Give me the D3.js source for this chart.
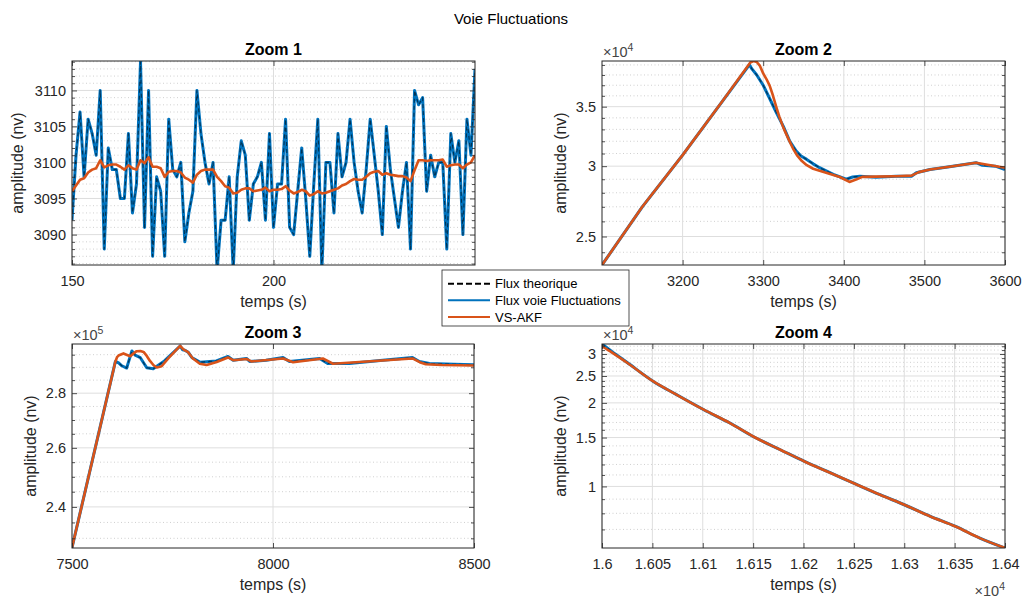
<!DOCTYPE html>
<html><head><meta charset="utf-8">
<script src="https://cdn.jsdelivr.net/npm/d3@7"></script>
<style>
body{margin:0;background:#fff;}
text{font-family:"Liberation Sans",Arial,Helvetica,sans-serif;}
</style>
</head><body>
<svg id="c" width="1023" height="598"></svg>
<script>
// ---------------- DATA ----------------
const z1Time = [150,151,152,153,154,155,156,157,158,159,160,161,162,163,164,165,166,167,168,169,170,171,172,173,174,175,176,177,178,179,180,181,182,183,184,185,186,187,188,189,190,191,192,193,194,195,196,197,198,199,200,201,202,203,204,205,206,207,208,209,210,211,212,213,214,215,216,217,218,219,220,221,222,223,224,225,226,227,228,229,230,231,232,233,234,235,236,237,238,239,240,241,242,243,244,245,246,247,248,249,250];
const z1Flux = [3092,3101,3107,3098,3106,3104,3101,3110,3088,3102,3099,3099,3095,3095,3104,3093,3097,3114,3091,3110,3087,3098,3096,3087,3106,3099,3098,3100,3089,3093,3096,3110,3104,3100,3097,3100,3085,3092,3092,3098,3085,3098,3103,3101,3092,3097,3098,3100,3092,3104,3091,3097,3097,3106,3091,3090,3096,3102,3095,3087,3097,3106,3085,3100,3100,3093,3104,3098,3100,3106,3100,3096,3093,3099,3106,3101,3096,3090,3105,3099,3095,3091,3096,3100,3088,3110,3108,3109,3096,3101,3098,3100,3100,3088,3104,3100,3103,3090,3106,3101,3113];
const z1Akf = [3096.0,3096.8,3097.6,3097.8,3098.6,3099.0,3099.2,3100.3,3099.3,3099.6,3099.7,3099.7,3099.4,3099.0,3099.6,3099.2,3099.0,3100.3,3099.9,3100.7,3099.4,3099.4,3099.2,3098.0,3098.7,3098.8,3098.8,3098.6,3097.9,3097.6,3097.2,3098.3,3098.8,3099.0,3099.0,3099.0,3098.0,3097.4,3096.7,3096.5,3095.7,3095.8,3096.2,3096.4,3096.4,3096.0,3096.1,3096.2,3096.5,3096.0,3096.2,3096.2,3096.3,3096.7,3096.1,3095.7,3095.9,3096.2,3096.0,3095.4,3095.6,3096.0,3095.7,3095.8,3096.0,3096.2,3096.4,3096.8,3097.0,3097.4,3097.7,3097.6,3097.6,3098.0,3098.5,3098.7,3098.8,3098.3,3098.5,3098.3,3098.2,3098.1,3098.1,3097.9,3097.4,3098.9,3100.3,3100.3,3100.2,3100.3,3100.3,3100.3,3100.4,3099.4,3099.6,3099.7,3099.7,3099.2,3099.7,3100.0,3101.0];

const z2FluxTime = [3100,3150,3200,3250,3283,3286,3292,3300,3308,3316,3325,3333,3341,3347,3354,3362,3370,3387,3403,3411,3420,3440,3465,3484,3490,3507,3531,3564,3572,3588,3600];
const z2Flux = [23220,27000,30870,35560,39030,38600,38000,37000,35750,34520,33260,31990,31190,30800,30530,30180,29880,29370,29000,29170,29230,29150,29230,29230,29490,29740,29950,30270,30070,30000,29740];
const z2AkfTime = [3100,3150,3200,3250,3280,3284,3288,3292,3296,3300,3304,3308,3312,3316,3320,3325,3331,3337,3342,3348,3354,3362,3370,3378,3395,3407,3416,3423,3440,3465,3484,3493,3507,3531,3564,3600];
const z2Akf = [23220,27000,30870,35560,38800,39250,39400,39300,38900,38150,37600,36970,36050,35030,34100,33150,32240,31400,30850,30400,30080,29800,29640,29490,29170,28800,29000,29180,29200,29230,29270,29540,29740,29950,30270,29870];

const z3FluxTime = [7500,7608,7616,7624,7636,7649,7657,7670,7686,7702,7730,7769,7775,7781,7789,7798,7819,7859,7888,7901,7934,7942,7983,8025,8041,8116,8136,8190,8273,8347,8364,8389,8450,8500];
const z3Flux = [227100,292300,291700,290600,289700,296500,294800,293800,289800,289400,292500,298500,297000,296800,296000,293900,292000,292500,294300,292800,293500,292300,292800,293900,292300,293500,291500,291500,292800,293900,292300,291500,291200,291000];
const z3AkfTime = [7500,7608,7612,7617,7628,7637,7645,7653,7661,7670,7678,7686,7694,7703,7711,7723,7740,7769,7778,7789,7800,7818,7835,7860,7888,7901,7934,7946,8025,8050,8124,8149,8347,8365,8380,8420,8500];
const z3Akf = [227100,292300,294000,294800,295500,294900,294400,295500,296400,296500,296100,294500,292500,290800,289900,290400,293600,298500,297000,296000,293600,291400,290900,292100,293900,292800,293300,292300,293500,292000,293500,291400,293500,292000,291200,290900,290700];

const z4FluxTime = [16000,16010,16025,16051,16074,16101,16127,16151,16177,16201,16227,16251,16276,16300,16326,16351,16375,16400];
const z4Flux = [32600,30600,27950,23900,21410,18900,16920,15070,13560,12300,11180,10230,9335,8590,7796,7175,6515,6000];
const z4AkfTime = [16000,16010,16025,16051,16074,16101,16127,16151,16177,16201,16227,16251,16276,16300,16326,16351,16375,16400];
const z4Akf = [31990,30350,27900,23900,21410,18900,16920,15070,13560,12300,11180,10230,9335,8590,7796,7175,6515,6000];

const seriesNames = ["Flux theorique","Flux voie Fluctuations","VS-AKF"];
const seriesColors = ["#000000","#0072BD","#D95319"];

const z1XTicks = [150,200], z1XLabels = ["150","200"];
const z1YTicks = [3090,3095,3100,3105,3110], z1YLabels = ["3090","3095","3100","3105","3110"];
const z2XTicks = [3200,3300,3400,3500,3600], z2XLabels = ["3200","3300","3400","3500","3600"];
const z2YTicks = [25000,30000,35000], z2YLabels = ["2.5","3","3.5"];
const z3XTicks = [7500,8000,8500], z3XLabels = ["7500","8000","8500"];
const z3YTicks = [240000,260000,280000], z3YLabels = ["2.4","2.6","2.8"];
const z4XTicks = [16000,16050,16100,16150,16200,16250,16300,16350,16400];
const z4XLabels = ["1.6","1.605","1.61","1.615","1.62","1.625","1.63","1.635","1.64"];
const z4YTicks = [10000,15000,20000,25000,30000], z4YLabels = ["1","1.5","2","2.5","3"];

// ---------------- LAYOUT ----------------
const svg = d3.select("#c");
const AX = "#262626";
const TICKFONT = "14.5px";

svg.append("text").attr("x",511).attr("y",24).attr("text-anchor","middle")
  .attr("font-size","15px").attr("fill","#000").text("Voie Fluctuations");

const panels = [
  {id:1,title:"Zoom 1",left:72,top:61,w:403,h:204,xd:[150,250],yd:[3085.8,3114.1],
   xt:z1XTicks,xl:z1XLabels,yt:z1YTicks,yl:z1YLabels,minor:[3086,3114,1],ylabX:23,
   flux:[z1Time,z1Flux],akf:[z1Time,z1Akf],smooth:false},
  {id:2,title:"Zoom 2",left:602,top:61,w:403,h:204,xd:[3100,3600],yd:[23220,39400],
   xt:z2XTicks,xl:z2XLabels,yt:z2YTicks,yl:z2YLabels,minor:[24000,39000,1000],ylabX:565.5,
   flux:[z2FluxTime,z2Flux],akf:[z2AkfTime,z2Akf],expTop:"4",smooth:false},
  {id:3,title:"Zoom 3",left:72,top:344,w:402,h:204,xd:[7500,8500],yd:[227000,299300],
   xt:z3XTicks,xl:z3XLabels,yt:z3YTicks,yl:z3YLabels,minor:[230000,295000,5000],ylabX:35.5,
   flux:[z3FluxTime,z3Flux],akf:[z3AkfTime,z3Akf],expTop:"5",smooth:false},
  {id:4,title:"Zoom 4",left:602,top:344,w:403,h:204,xd:[16000,16400],yd:[6000,32600],
   xt:z4XTicks,xl:z4XLabels,yt:z4YTicks,yl:z4YLabels,minor:[6000,32000,1000],ylabX:565.5,
   flux:[z4FluxTime,z4Flux],akf:[z4AkfTime,z4Akf],expTop:"4",expBottom:"4",smooth:true}
];

function expLabel(g, x, y, e, anchor){
  const t = g.append("text").attr("x",x).attr("y",y).attr("fill","#444")
    .attr("font-size","14.5px").attr("text-anchor",anchor||"start");
  t.append("tspan").text("\u00d710");
  t.append("tspan").attr("font-size","10.5px").attr("dy","-6").text(e);
}

panels.forEach(p=>{
  const g = svg.append("g");
  const x = d3.scaleLinear().domain(p.xd).range([p.left,p.left+p.w]);
  const y = d3.scaleLog().domain(p.yd).range([p.top+p.h,p.top]);
  const bottom = p.top+p.h, right = p.left+p.w;

  g.append("rect").attr("x",p.left).attr("y",p.top).attr("width",p.w).attr("height",p.h).attr("fill","#fff");

  const minorVals = d3.range(p.minor[0], p.minor[1]+p.minor[2]/2, p.minor[2])
     .filter(v=>v>p.yd[0] && v<p.yd[1] && !p.yt.includes(v));
  g.selectAll(null).data(minorVals).join("line")
    .attr("x1",p.left).attr("x2",right).attr("y1",d=>y(d)).attr("y2",d=>y(d))
    .attr("stroke","#c4c4c4").attr("stroke-width",0.8).attr("stroke-dasharray","1,2.5");
  g.selectAll(null).data(p.yt).join("line")
    .attr("x1",p.left).attr("x2",right).attr("y1",d=>y(d)).attr("y2",d=>y(d))
    .attr("stroke","#dedede").attr("stroke-width",1);
  g.selectAll(null).data(p.xt).join("line")
    .attr("y1",p.top).attr("y2",bottom).attr("x1",d=>x(d)).attr("x2",d=>x(d))
    .attr("stroke","#dedede").attr("stroke-width",1);

  const cid = "clip"+p.id;
  svg.append("clipPath").attr("id",cid).append("rect")
    .attr("x",p.left).attr("y",p.top).attr("width",p.w).attr("height",p.h);
  const lg = g.append("g").attr("clip-path",`url(#${cid})`);
  const line = d3.line().x(d=>x(d[0])).y(d=>y(d[1]))
    .curve(p.smooth ? d3.curveMonotoneX : d3.curveLinear);
  const fluxPts = p.flux[0].map((t,i)=>[t,p.flux[1][i]]);
  const akfPts = p.akf[0].map((t,i)=>[t,p.akf[1][i]]);
  lg.append("path").attr("d",line(fluxPts)).attr("fill","none")
    .attr("stroke",seriesColors[1]).attr("stroke-width",3).attr("stroke-linejoin","round");
  lg.append("path").attr("d",line(fluxPts)).attr("fill","none")
    .attr("stroke",seriesColors[0]).attr("stroke-width",1.1).attr("stroke-opacity",0.55)
    .attr("stroke-dasharray","4,3").attr("stroke-linejoin","round");
  lg.append("path").attr("d",line(akfPts)).attr("fill","none")
    .attr("stroke",seriesColors[2]).attr("stroke-width",2.6).attr("stroke-linejoin","round");

  const ax = g.append("g").attr("fill",AX);
  const ab = ax.append("g").attr("transform",`translate(0,${bottom})`)
    .call(d3.axisBottom(x).tickValues(p.xt).tickFormat((d,i)=>p.xl[i]).tickSizeInner(-5).tickSizeOuter(0).tickPadding(11));
  const at = ax.append("g").attr("transform",`translate(0,${p.top})`)
    .call(d3.axisTop(x).tickValues(p.xt).tickFormat("").tickSizeInner(-5).tickSizeOuter(0));
  const al = ax.append("g").attr("transform",`translate(${p.left},0)`)
    .call(d3.axisLeft(y).tickValues(p.yt).tickFormat((d,i)=>p.yl[i]).tickSizeInner(-5).tickSizeOuter(0).tickPadding(6));
  const ar = ax.append("g").attr("transform",`translate(${right},0)`)
    .call(d3.axisRight(y).tickValues(p.yt).tickFormat("").tickSizeInner(-5).tickSizeOuter(0));
  const alm = ax.append("g").attr("transform",`translate(${p.left},0)`)
    .call(d3.axisLeft(y).tickValues(minorVals).tickFormat("").tickSizeInner(-3).tickSizeOuter(0));
  const arm = ax.append("g").attr("transform",`translate(${right},0)`)
    .call(d3.axisRight(y).tickValues(minorVals).tickFormat("").tickSizeInner(-3).tickSizeOuter(0));
  [ab,at,al,ar,alm,arm].forEach(a=>{
    a.select(".domain").remove();
    a.selectAll("line").attr("stroke",AX).attr("stroke-width",0.8);
    a.selectAll("text").attr("fill",AX).attr("font-size",TICKFONT)
      .attr("font-family","'Liberation Sans',Arial,Helvetica,sans-serif");
  });
  g.append("rect").attr("x",p.left).attr("y",p.top).attr("width",p.w).attr("height",p.h)
    .attr("fill","none").attr("stroke",AX).attr("stroke-width",1);

  g.append("text").attr("x",(p.left+right)/2).attr("y",p.top-6).attr("text-anchor","middle")
    .attr("font-size","16px").attr("font-weight","bold").attr("fill","#000").text(p.title);
  g.append("text").attr("x",(p.left+right)/2).attr("y",bottom+41.5).attr("text-anchor","middle")
    .attr("font-size","16px").attr("fill",AX).text("temps (s)");
  g.append("text").attr("transform",`translate(${p.ylabX},${p.top+p.h/2}) rotate(-90)`)
    .attr("text-anchor","middle").attr("font-size","16px").attr("fill",AX).text("amplitude (nv)");
  if(p.expTop) expLabel(g, p.left+1, p.top-4, p.expTop, "start");
  if(p.expBottom) expLabel(g, right, bottom+48, p.expBottom, "end");
});

// ---------------- LEGEND ----------------
const leg = svg.append("g");
leg.append("rect").attr("x",442).attr("y",270).attr("width",187).attr("height",56)
  .attr("fill","#fff").attr("stroke",AX).attr("stroke-width",0.8);
const rowsY = [283.7,300.3,317];
seriesNames.forEach((n,i)=>{
  const l = leg.append("line").attr("x1",448).attr("x2",490).attr("y1",rowsY[i]).attr("y2",rowsY[i])
    .attr("stroke",seriesColors[i]).attr("stroke-width",2);
  if(i===0) l.attr("stroke-dasharray","6,3");
  leg.append("text").attr("x",495).attr("y",rowsY[i]).attr("dy","0.35em")
    .attr("font-size","13px").attr("fill","#000").text(n);
});
</script>
</body></html>
